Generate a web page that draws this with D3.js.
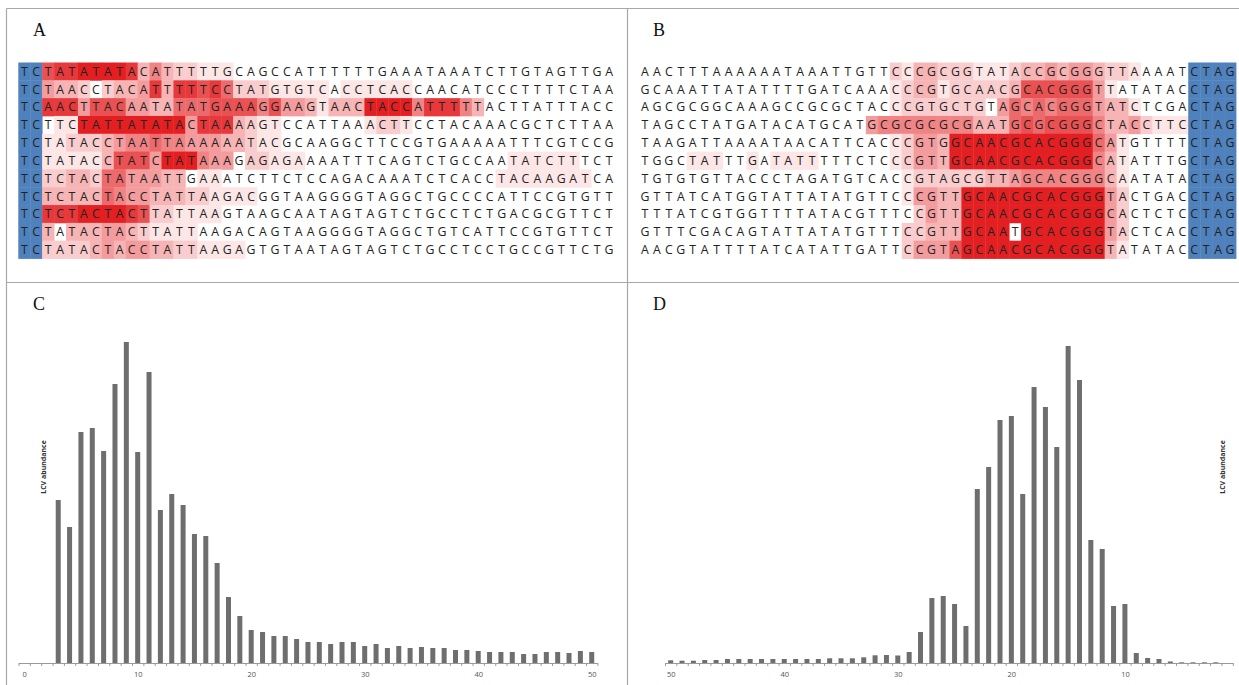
<!DOCTYPE html>
<html>
<head>
<meta charset="utf-8">
<script src="https://cdn.jsdelivr.net/npm/d3@7"></script>
<style>
  body { margin: 0; background: #fff; }
  text { font-family: "Open Sans", "Noto Sans", sans-serif; }
</style>
</head>
<body>
<script>
// --- data -------------------------------------------------------------
// panel A: aligned reads (first two columns are the blue anchor)
var seqA = [
  "TCTATATATACATTTTTGCAGCCATTTTTTGAAATAAATCTTGTAGTTGA",
  "TCTAACCTACATTTTTCCTATGTGTCACCTCACCAACATCCCTTTTCTAA",
  "TCAACTTACAATATATGAAAGGAAGTAACTACCATTTTTACTTATTTACC",
  "TCTTCTATTATATACTAAAAGTCCATTAAACTTCCTACAAACGCTCTTAA",
  "TCTATACCTAATTAAAAAATACGCAAGGCTTCCGTGAAAAATTTCGTCCG",
  "TCTATACCTATCTATAAAGAGAGAAAATTTCAGTCTGCCAATATCTTTCT",
  "TCTCTACTATAATTGAAATCTTCTCCAGACAAATCTCACCTACAAGATCA",
  "TCTCTACTACCTATTAAGACGGTAAGGGGTAGGCTGCCCCATTCCGTGTT",
  "TCTCTACTACTTATTAAGTAAGCAATAGTAGTCTGCCTCTGACGCGTTCT",
  "TCTATACTACTTATTAAGACAGTAAGGGGTAGGCTGTCATTCCGTGTTCT",
  "TCTATACTACCTATTAAGAGTGTAATAGTAGTCTGCCTCCTGCCGTTCTG"
];
// red intensity per cell, 0 (white) .. 9 (full red)
var heatA = [
  "00788999983532211100000000000000000000000000000000",
  "00433202334838878622211111011111100000000000000000",
  "00888477744336667777574431333999958885300000000000",
  "00011999999999488832110000000122100000000000000000",
  "00112223455655444332110000000000000000000000000000",
  "00111113777499954402211100000000000000000111111000",
  "00223326644433011000000000000000000000001111111100",
  "00333336544333221111000000000000000000000000000000",
  "00888999987221111000000000000000000000000000000000",
  "00303334432111100000000000000000000000000000000000",
  "00222234344332211110000000000000000000000000000000"
];
var blueColsA = [0, 1];

// panel B: aligned reads (last four columns are the blue anchor)
var seqB = [
  "AACTTTAAAAAATAAATTGTTCCCGCGGTATACCGCGGGTTAAAATCTAG",
  "GCAAATTATATTTTGATCAAACCCGTGCAACGCACGGGTTATATACCTAG",
  "AGCGCGGCAAAGCCGCGCTACCCGTGCTGTAGCACGGGTATCTCGACTAG",
  "TAGCCTATGATACATGCATGCGCGCGCGAATGCGCGGGCTACCTTCCTAG",
  "TAAGATTAAAATAACATTCACCCGTGGCAACGCACGGGCATGTTTTCTAG",
  "TGGCTATTTGATATTTTTCTCCCGTTGCAACGCACGGGCATATTTGCTAG",
  "TGTGTGTTACCCTAGATGTCACCGTAGCGTTAGCACGGGCAATATACTAG",
  "GTTATCATGGTATTATATGTTCCCGTTGCAACGCACGGGTACTGACCTAG",
  "TTTATCGTGGTTTTATACGTTTCCGTTGCAACGCACGGGCACTCTCCTAG",
  "GTTTCGACAGTATTATATGTTTCCGTTGCAATGCACGGGTACTCACCTAG",
  "AACGTATTTTATCATATTGATTCCGTAGCAACGCACGGGTATATACCTAG"
];
var heatB = [
  "00000000000000000000021332221112334344322100000000",
  "00000000000000000000012331222223777777410000000000",
  "00000000000000000000012222222046565666433100000000",
  "00000000000000000004555555553336767777533421110000",
  "00000000000000000000012443999999999999641000000000",
  "00001110010111100000012443999999999999531000000000",
  "00000000000000000000001222222334555555531000000000",
  "00000000000000000000001443399999999999942000000000",
  "00000000000000000000000243399999999999942000000000",
  "00000000000000000000002233399990999999942000000000",
  "00000000000000000000002444799999999999931000000000"
];
var blueColsB = [46, 47, 48, 49];

// panel C: LCV abundance by length
var lengthC = [3, 4, 5, 6, 7, 8, 9, 10, 11, 12, 13, 14, 15, 16, 17, 18, 19, 20,
               21, 22, 23, 24, 25, 26, 27, 28, 29, 30, 31, 32, 33, 34, 35, 36,
               37, 38, 39, 40, 41, 42, 43, 44, 45, 46, 47, 48, 49, 50];
var abundC = [163, 136, 231, 235, 212, 279, 321, 211, 291, 153, 169, 158, 129,
              127, 100, 66, 47, 33, 31, 27, 27, 24, 21, 21, 19, 21, 21, 17, 19,
              15, 17, 15, 16, 15, 15, 13, 13, 12, 11, 11, 11, 9, 9, 11, 11, 10,
              12, 11];

// panel D: LCV abundance by length (reversed axis)
var lengthD = [50, 49, 48, 47, 46, 45, 44, 43, 42, 41, 40, 39, 38, 37, 36, 35,
               34, 33, 32, 31, 30, 29, 28, 27, 26, 25, 24, 23, 22, 21, 20, 19,
               18, 17, 16, 15, 14, 13, 12, 11, 10, 9, 8, 7, 6, 5, 4, 3, 2];
var abundD = [2.7, 2.3, 2.3, 3, 3, 4, 4, 4, 4, 4, 4, 4, 4, 4, 4.7, 4.7, 4.7,
              5.7, 7.7, 8, 7.5, 11, 31, 65, 67, 59, 37, 174, 196, 243, 247,
              169, 276, 256, 216, 317, 283, 123, 114, 57, 59, 10, 5, 4, 1.5,
              0.7, 0.7, 0.7, 0.7];

var axisLabelsC = [0, 10, 20, 30, 40, 50];
var axisLabelsD = [50, 40, 30, 20, 10];

// --- layout -----------------------------------------------------------
var W = 1239, H = 685;
var FRAME = "#a8a8a8",
    RED = "#e41f22",
    BLUE = "#4f81bd",
    BAR = "#6e6e6e";

var svg = d3.select("body").append("svg")
    .attr("width", W)
    .attr("height", H);

// frame lines
var frame = svg.append("g")
    .attr("stroke", FRAME)
    .attr("stroke-width", 1.2)
    .attr("fill", "none");
frame.append("line").attr("x1", 6.5).attr("x2", W).attr("y1", 8.5).attr("y2", 8.5);
frame.append("line").attr("x1", 6.5).attr("x2", 6.5).attr("y1", 8.5).attr("y2", H);
frame.append("line").attr("x1", 627.5).attr("x2", 627.5).attr("y1", 8.5).attr("y2", H);
frame.append("line").attr("x1", 6.5).attr("x2", W).attr("y1", 282.5).attr("y2", 282.5);

// panel letters
[["A", 33, 36], ["B", 653, 36], ["C", 33, 310], ["D", 653, 310]].forEach(function (p) {
  svg.append("text")
      .attr("x", p[1]).attr("y", p[2])
      .style("font-family", "'Liberation Serif', 'DejaVu Serif', serif")
      .style("font-size", "18px")
      .attr("fill", "#111")
      .text(p[0]);
});

var colorScale = d3.scaleLinear()
    .domain([0, 9])
    .range(["#ffffff", RED])
    .clamp(true);

function drawAlignment(seqs, heats, blueCols, x0, x1) {
  var g = svg.append("g");
  var xs = d3.scaleBand().domain(d3.range(seqs[0].length)).range([x0, x1]);
  var ys = d3.scaleBand().domain(d3.range(seqs.length)).range([62.5, 258.5]);

  var cells = [];
  seqs.forEach(function (s, r) {
    s.split("").forEach(function (ch, c) {
      cells.push({r: r, c: c, ch: ch, v: +heats[r][c], blue: blueCols.indexOf(c) >= 0});
    });
  });

  g.selectAll("rect.cell")
    .data(cells.filter(function (d) { return d.blue || d.v > 0; }))
    .enter().append("rect")
      .attr("class", "cell")
      .attr("x", function (d) { return xs(d.c); })
      .attr("y", function (d) { return ys(d.r); })
      .attr("width", xs.bandwidth() + 0.4)
      .attr("height", ys.bandwidth() + 0.4)
      .attr("fill", function (d) { return d.blue ? BLUE : colorScale(d.v); });

  g.selectAll("text.base")
    .data(cells)
    .enter().append("text")
      .attr("class", "base")
      .attr("x", function (d) { return xs(d.c) + xs.bandwidth() / 2; })
      .attr("y", function (d) { return ys(d.r) + ys.bandwidth() / 2 + 4.4; })
      .attr("text-anchor", "middle")
      .style("font-size", "12.3px")
      .attr("fill", "#222")
      .text(function (d) { return d.ch; });
}

drawAlignment(seqA, heatA, blueColsA, 18.3, 615);
drawAlignment(seqB, heatB, blueColsB, 639, 1236);

// bar charts
var BASE = 663;
var y = d3.scaleLinear().domain([0, 330]).range([BASE, BASE - 330]);

function drawBars(cats, vals, domain, range, labels, titleX) {
  var x = d3.scaleLinear().domain(domain).range(range);
  var g = svg.append("g");
  var data = cats.map(function (c, i) { return {len: c, v: vals[i]}; });

  g.selectAll("rect")
    .data(data)
    .enter().append("rect")
      .attr("x", function (d) { return x(d.len) - 2.5; })
      .attr("width", 5)
      .attr("y", function (d) { return y(d.v); })
      .attr("height", function (d) { return BASE - y(d.v); })
      .attr("fill", BAR);

  // minor ticks between categories
  var lo = Math.min(domain[0], domain[1]), hi = Math.max(domain[0], domain[1]);
  var between = d3.range(lo, hi + 0.01, 1);
  var ax = g.append("g")
      .attr("transform", "translate(0," + BASE + ")")
      .call(d3.axisBottom(x).tickValues(between).tickSize(3).tickSizeOuter(0).tickFormat(""));
  ax.selectAll("path, line").attr("stroke", "#9a9a9a");

  var lab = g.append("g")
      .attr("transform", "translate(0," + BASE + ")")
      .call(d3.axisBottom(x).tickValues(labels).tickSize(0).tickPadding(9));
  lab.select(".domain").remove();
  lab.selectAll("text")
      .style("font-size", "7.5px")
      .style("font-family", "'Open Sans', sans-serif")
      .attr("fill", "#555");

  g.append("text")
      .attr("transform", "translate(" + titleX + ",467) rotate(-90)")
      .attr("text-anchor", "middle")
      .style("font-size", "7px")
      .style("font-weight", "700")
      .attr("fill", "#333")
      .text("LCV abundance");
}

drawBars(lengthC, abundC, [-0.5, 50.5], [18.5, 597.4], axisLabelsC, 46);
drawBars(lengthD, abundD, [50.5, 0.5], [665, 1232.8], axisLabelsD, 1225);
</script>
</body>
</html>
